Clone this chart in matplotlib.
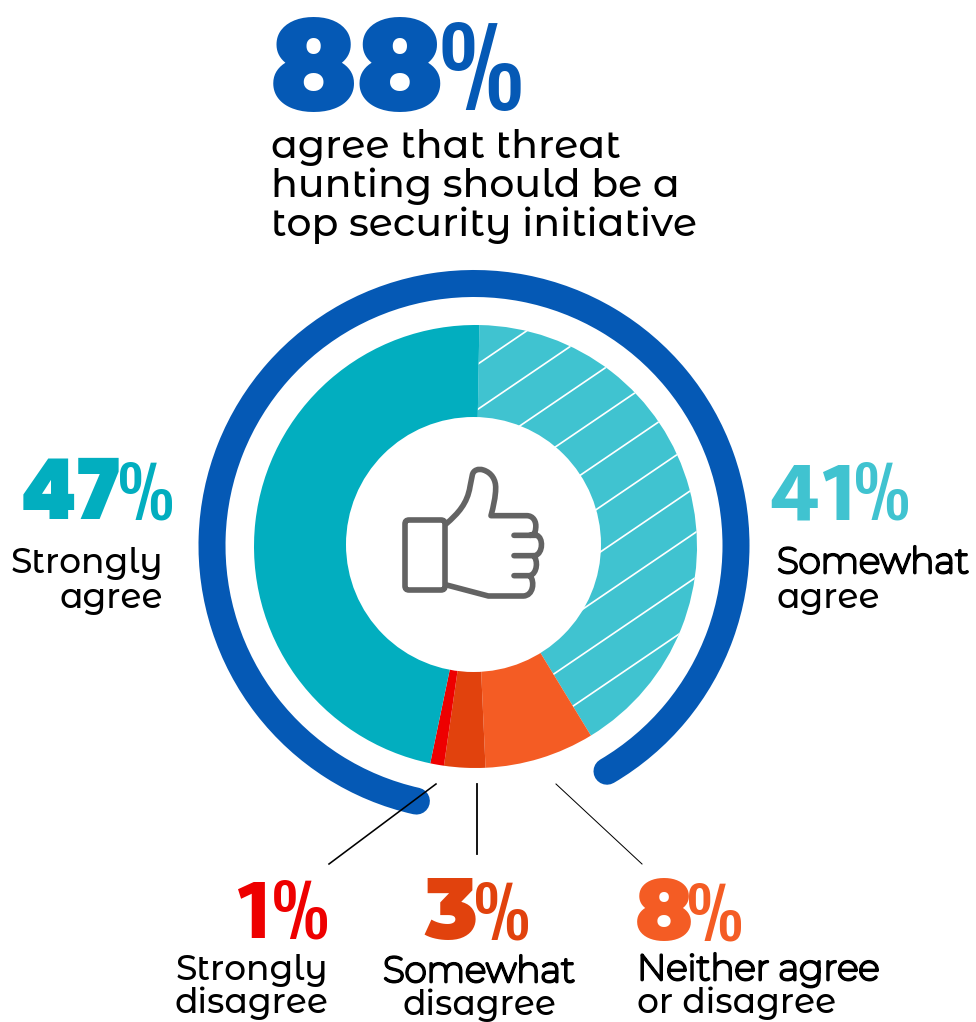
"""Threat hunting survey donut: share agreeing it should be a top initiative."""
import matplotlib
matplotlib.use("Agg")
import matplotlib.pyplot as plt
import matplotlib.patheffects as pe
import numpy as np
from matplotlib.patches import Arc, Circle, FancyBboxPatch, PathPatch
from matplotlib.path import Path

W, H = 976, 1022
PX = 0.72  # one pixel in points at dpi 100

# survey answers, clockwise from the top of the donut
SLICE_VALUES = [41, 8, 3, 1, 47]
SLICE_COLORS = ["#40C3D0", "#F45C24", "#E1420D", "#EE0000", "#02AEBF"]
AGREE_TOTAL = 88
HEADLINE = ["agree that threat", "hunting should be a", "top security initiative"]

BLUE = "#0559B5"
GRAY = "#636363"
# family list and digit height per em for the heavy numerals
ALT = (["Montserrat Alternates", "Inter", "DejaVu Sans"], 0.70)
POPPINS = (["Poppins", "Inter", "DejaVu Sans"], 0.72)
MUKTA = (["Mukta", "Inter", "DejaVu Sans"], 0.68)
PCT_FONT = ["Fjalla One", "Roboto", "DejaVu Sans"]
BODY_FONT = ["Montserrat Alternates", "Inter", "DejaVu Sans"]
THIN_FONT = ["Montserrat", "DejaVu Sans"]

# value index, font, number x, percent x, baseline, digit height
NUMBER_SPOTS = [
    (4, POPPINS, 19, 115, 519, 60),
    (0, MUKTA, 769, 851, 519, 60),
    (3, MUKTA, 234, 269, 938, 61),
    (2, ALT, 424, 471, 939, 60),
    (1, ALT, 635, 684, 940, 60),
]
# lines, x, first baseline, line step, alignment
CAPTIONS = [
    (["Strongly", "agree"], 163, 573, 35, "right"),
    (["Somewhat", "agree"], 777, 573, 35, "left"),
    (["Strongly", "disagree"], 328, 980, 33, "right"),
    (["Somewhat", "disagree"], 479, 982, 33, "center"),
    (["Neither agree", "or disagree"], 637, 980, 33, "left"),
]
LEADERS = [
    ((436, 784), (329, 864), 1.6),
    ((477, 784), (477, 854), 1.8),
    ((556, 784), (642, 864), 1.0),
]
HATCH_OFFSETS = np.arange(689, 1096, 45.2)


def yy(y):
    return H - y


def number(value, font, x_num, x_pct, base, cap_px, color):
    family, ratio = font
    ax.text(x_num, yy(base), str(value), color=color, fontsize=cap_px / ratio * PX,
            family=family, fontweight=900, ha="left", va="baseline")
    ax.text(x_pct, yy(base), "%", color=color, fontsize=cap_px * 1.13 * PX,
            family=PCT_FONT, ha="left", va="baseline")


def body_text(x, base, line, size_px, align="left"):
    # Alternates swaps in odd w and N shapes, so those lines take the thin
    # upright Montserrat, fattened with a stroke
    if "w" in line or "N" in line:
        ax.text(x, yy(base), line, color="black", fontsize=36 * PX, family=THIN_FONT,
                ha=align, va="baseline",
                path_effects=[pe.withStroke(linewidth=1.95, foreground="black")])
    else:
        ax.text(x, yy(base), line, color="black", fontsize=size_px * PX, family=BODY_FONT,
                fontweight=500, ha=align, va="baseline")


def draw_thumb():
    def pt(x, y):
        return (380 + x / 3, yy(450 + y / 3))

    segs = [
        ("M", (198, 222)),
        ("C", (235, 190), (262, 160), (270, 110)),
        ("L", (277, 75)),
        ("C", (280, 60), (295, 55), (310, 60)),
        ("C", (335, 68), (348, 90), (347, 115)),
        ("C", (347, 140), (340, 170), (333, 197)),
        ("L", (440, 197)),
        ("C", (460, 197), (470, 215), (467, 235)),
        ("C", (466, 248), (462, 255), (450, 256)),
        ("L", (402, 256)),
        ("M", (450, 256)),
        ("L", (470, 256)),
        ("C", (490, 262), (490, 310), (465, 317)),
        ("L", (402, 317)),
        ("M", (460, 317)),
        ("C", (475, 330), (472, 370), (450, 377)),
        ("L", (402, 377)),
        ("M", (450, 377)),
        ("C", (465, 395), (460, 437), (430, 438)),
        ("L", (325, 438)),
        ("L", (200, 405)),
    ]
    verts, codes = [], []
    for seg in segs:
        if seg[0] == "M":
            codes.append(Path.MOVETO)
        elif seg[0] == "L":
            codes.append(Path.LINETO)
        else:
            codes += [Path.CURVE4] * 3
        verts += [pt(*p) for p in seg[1:]]
    ax.add_patch(PathPatch(Path(verts, codes), fill=False, ec=GRAY, lw=5.6 * PX,
                           capstyle="round", joinstyle="round", zorder=5))
    ax.add_patch(FancyBboxPatch((408, yy(590) + 3), 34, 64,
                                boxstyle="round,pad=3,rounding_size=4",
                                fc="none", ec=GRAY, lw=5.6 * PX, zorder=5))


fig = plt.figure(figsize=(W / 100, H / 100), dpi=100)
ax = fig.add_axes([0, 0, 1, 1])

wedges, _ = ax.pie(SLICE_VALUES, colors=SLICE_COLORS, startangle=89, counterclock=False,
                   center=(475.5, yy(546.5)), radius=221.5,
                   wedgeprops={"linewidth": 0})
ax.set_xlim(0, W)
ax.set_ylim(0, H)
ax.set_aspect("auto")
ax.axis("off")

# white diagonal hatching on the "somewhat agree" slice
for c in HATCH_OFFSETS:
    xs = np.array([460.0, 720.0])
    line, = ax.plot(xs, yy(c - 0.68 * xs), color="white", lw=1.7 * PX)
    line.set_clip_path(wedges[0])

# donut hole sits a touch off the slice centre
ax.add_patch(Circle((473.5, yy(544.5)), 127.5, fc="white", ec="none", zorder=4))

# outer ring spanning the combined agree share
ring_start = -59.5
ax.add_patch(Arc((474, yy(545.5)), 524, 524, theta1=ring_start,
                 theta2=ring_start + AGREE_TOTAL * 3.6, color=BLUE, lw=27 * PX,
                 capstyle="round"))

for a, b, lw in LEADERS:
    ax.plot([a[0], b[0]], [yy(a[1]), yy(b[1])], color="black", lw=lw * PX, zorder=4)

draw_thumb()

# headline
number(AGREE_TOTAL, ALT, 270, 435, 110, 90, BLUE)
for i, line in enumerate(HEADLINE):
    body_text(271, 158 + 39 * i, line, 39.4)

for (idx, font, x_num, x_pct, base, cap_px) in NUMBER_SPOTS:
    number(SLICE_VALUES[idx], font, x_num, x_pct, base, cap_px, SLICE_COLORS[idx])

for lines, x, base, step, align in CAPTIONS:
    for i, line in enumerate(lines):
        body_text(x, base + step * i, line, 34.4, align)

fig.savefig("out.png", dpi=100)
